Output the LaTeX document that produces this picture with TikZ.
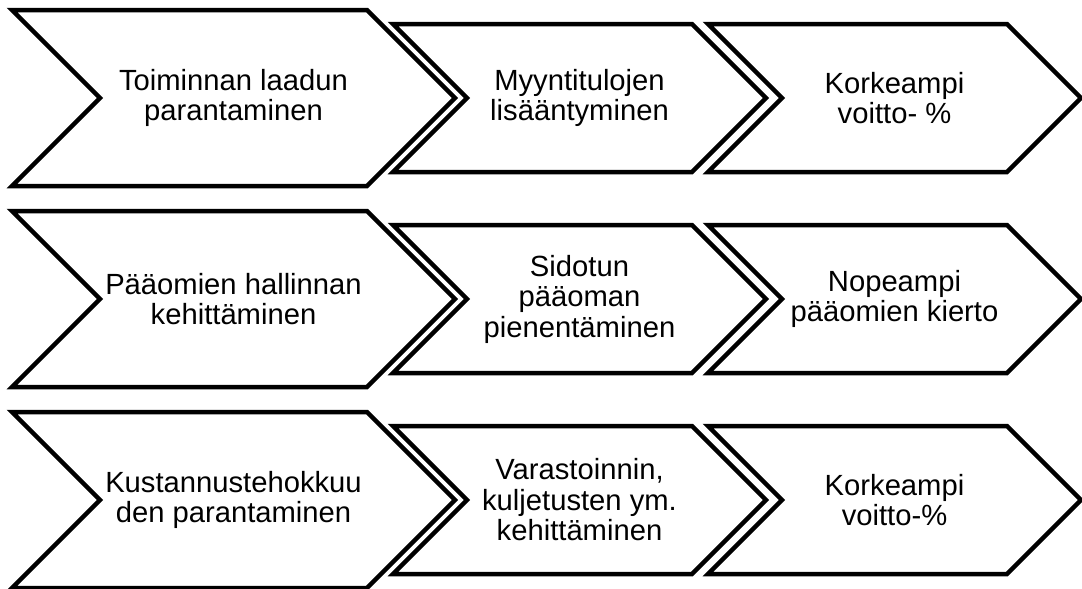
\documentclass[tikz,border=0pt]{standalone}
\usepackage{fontspec}
\setmainfont{Liberation Sans}
\usetikzlibrary{shapes.symbols}

\begin{document}
\begin{tikzpicture}[x=1pt, y=-1pt,
	every node/.style={font=\fontsize{29.2}{30.5}\selectfont, align=center},
	chev/.style={draw, line width=4.5pt, fill=white, signal, signal from=west, signal to=east, signal pointer angle=90, inner sep=0pt},
	bigchev/.style={chev, minimum width=443pt, minimum height=176pt},
	smallchev/.style={chev, minimum width=373pt, minimum height=148pt}]
	\useasboundingbox (0,0) rectangle (1082,589);
	% row 1
	\node[bigchev] (lead1) at (233.5,98) {Toiminnan laadun\\parantaminen};
	\node[smallchev] (mid1) at (579.5,98) {Myyntitulojen\\lisääntyminen};
	\node[smallchev] (res1) at (894.5,98) {Korkeampi\\voitto- \%};
	% row 2
	\node[bigchev] (lead2) at (233.5,299) {Pääomien hallinnan\\kehittäminen};
	\node[smallchev] (mid2) at (579.5,299) {Sidotun\\pääoman\\pienentäminen};
	\node[smallchev] (res2) at (894.5,299) {Nopeampi\\pääomien kierto};
	% row 3
	\node[bigchev] (lead3) at (233.5,500) {Kustannustehokkuu\\den parantaminen};
	\node[smallchev] (mid3) at (579.5,500) {Varastoinnin,\\kuljetusten ym.\\kehittäminen};
	\node[smallchev] (res3) at (894.5,500) {Korkeampi\\voitto-\%};
\end{tikzpicture}
\end{document}
